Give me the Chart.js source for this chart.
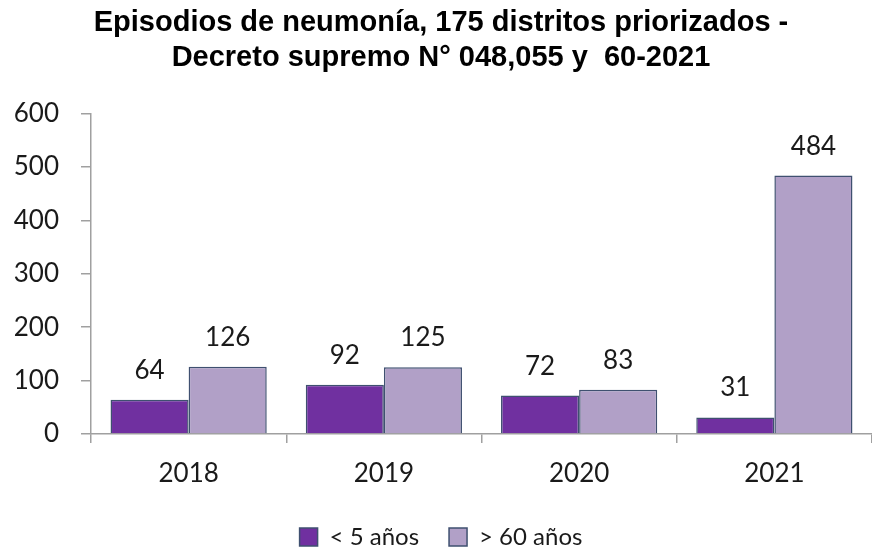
<!DOCTYPE html>
<html><head><meta charset="utf-8">
<script src="https://cdn.jsdelivr.net/npm/chart.js@4.4.1/dist/chart.umd.min.js"></script>
<style>html,body{margin:0;padding:0;background:#fff}#wrap{width:872px;height:549px}</style>
</head><body><div id="wrap"><canvas id="c" width="872" height="549"></canvas></div>
<script>
const categories = ['2018','2019','2020','2021'];
const under5 = [64, 92, 72, 31];
const over60 = [126, 125, 83, 484];
const seriesLabels = ['< 5 años', '> 60 años'];
const titleLines = ['Episodios de neumonía, 175 distritos priorizados -', 'Decreto supremo N° 048,055 y  60-2021'];
const yTicks = [0,100,200,300,400,500,600];

const labelPlugin = {
  id: 'vals',
  afterDatasetsDraw(chart) {
    const ctx = chart.ctx;
    ctx.save();
    ctx.font = '26px Lato';
    ctx.fillStyle = '#1a1a1a';
    ctx.textAlign = 'center';
    ctx.textBaseline = 'alphabetic';
    chart.data.datasets.forEach((ds, i) => {
      chart.getDatasetMeta(i).data.forEach((bar, j) => {
        ctx.fillText(ds.data[j], bar.x, bar.y - 21);
      });
    });
    ctx.restore();
  }
};

new Chart(document.getElementById('c'), {
  type: 'bar',
  data: {
    labels: categories,
    datasets: [
      { label: seriesLabels[0], data: under5, backgroundColor: '#7030A0', borderColor: '#3F5070', borderWidth: 1.5, categoryPercentage: 0.8, barPercentage: 1.0 },
      { label: seriesLabels[1], data: over60, backgroundColor: '#B1A0C7', borderColor: '#3F5070', borderWidth: 1.5, categoryPercentage: 0.8, barPercentage: 1.0 }
    ]
  },
  options: {
    responsive: false,
    animation: false,
    layout: { padding: { left: 10, right: 0, top: 0, bottom: -10 } },
    plugins: {
      title: { display: true, text: titleLines, font: { family: "'Liberation Sans', Arial", size: 29, weight: 'bold' }, color: '#000', padding: { top: 6, bottom: 38 }, lineHeight: 1.17 },
      legend: { position: 'bottom', labels: { font: { family: 'Lato', size: 24 }, color: '#1a1a1a', boxWidth: 18, boxHeight: 18, padding: 30 } },
      tooltip: { enabled: false }
    },
    scales: {
      x: {
        afterFit(axis) { axis.height = 61; },
        grid: { display: true, drawOnChartArea: false, drawTicks: true, tickLength: 9, color: '#a0a0a0', offset: true, lineWidth: 1.5 },
        border: { color: '#a0a0a0', width: 1.5 },
        ticks: { font: { family: 'Lato', size: 26 }, color: '#1a1a1a', padding: 15 }
      },
      y: {
        min: 0, max: 600,
        afterBuildTicks(axis) { axis.ticks = yTicks.map(v => ({ value: v })); },
        afterFit(axis) { axis.width = 81; },
        grid: { display: true, drawOnChartArea: false, drawTicks: true, tickLength: 10, color: '#a0a0a0', lineWidth: 1.5 },
        border: { color: '#a0a0a0', width: 1.5 },
        ticks: { font: { family: 'Lato', size: 26 }, color: '#1a1a1a', padding: 22 }
      }
    }
  },
  plugins: [labelPlugin]
});
</script></body></html>
